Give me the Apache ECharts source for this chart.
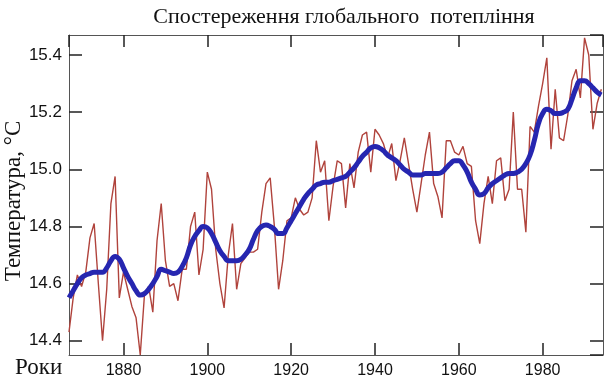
<!DOCTYPE html>
<html>
<head>
<meta charset="utf-8">
<script src="https://cdn.jsdelivr.net/npm/echarts@6/dist/echarts.min.js"></script>
<style>html,body{margin:0;padding:0;background:#fff}#c{width:611px;height:385px}</style>
</head>
<body>
<div id="c"></div>
<script>
const startYear = 1867;
const annualTemp = [
14.43,14.55,14.63,14.59,14.64,14.76,14.81,14.60,14.40,14.58,
14.88,14.975,14.55,14.64,14.58,14.52,14.48,14.35,14.56,14.59,
14.50,14.75,14.88,14.68,14.59,14.60,14.54,14.65,14.65,14.80,
14.85,14.63,14.72,14.99,14.93,14.72,14.60,14.515,14.70,14.81,
14.58,14.67,14.69,14.71,14.71,14.72,14.85,14.95,14.97,14.80,
14.58,14.68,14.82,14.83,14.90,14.86,14.84,14.85,14.90,15.10,
14.99,15.03,14.82,14.94,15.03,15.02,14.865,15.02,14.935,15.06,
15.12,15.13,14.99,15.14,15.12,15.09,15.04,15.09,14.96,15.03,
15.11,15.02,14.93,14.85,14.95,15.05,15.13,14.95,14.905,14.83,
15.10,15.10,15.06,15.05,15.08,15.02,15.01,14.82,14.74,14.88,
14.975,14.88,15.03,15.04,14.89,14.93,15.20,14.93,14.93,14.78,
15.15,15.13,15.22,15.30,15.39,15.07,15.28,15.11,15.10,15.19,
15.31,15.35,15.25,15.46,15.40,15.14,15.23,15.28
];
const smoothTemp = [
14.55,14.575,14.60,14.62,14.63,14.635,14.64,14.64,14.64,14.655,
14.68,14.695,14.685,14.655,14.625,14.60,14.575,14.56,14.565,14.58,
14.60,14.625,14.65,14.645,14.64,14.635,14.64,14.66,14.69,14.735,
14.765,14.785,14.80,14.795,14.775,14.745,14.715,14.695,14.68,14.68,
14.68,14.685,14.70,14.72,14.755,14.785,14.80,14.805,14.80,14.79,
14.775,14.775,14.795,14.82,14.845,14.87,14.895,14.915,14.93,14.945,
14.95,14.955,14.955,14.96,14.965,14.97,14.975,14.99,15.005,15.025,
15.045,15.06,15.075,15.08,15.075,15.065,15.05,15.04,15.03,15.015,
15.00,14.99,14.98,14.98,14.98,14.985,14.985,14.985,14.985,14.99,
15.005,15.02,15.03,15.03,15.015,14.99,14.955,14.93,14.91,14.915,
14.935,14.95,14.96,14.97,14.98,14.985,14.985,14.99,15.00,15.02,
15.05,15.10,15.16,15.195,15.21,15.205,15.195,15.195,15.20,15.21,
15.245,15.285,15.31,15.31,15.30,15.285,15.27,15.26
];
const xTicks = [1880,1900,1920,1940,1960,1980];
const yTicks = [14.4,14.6,14.8,15.0,15.2,15.4];
const titleText = 'Спостереження глобального  потепління';
const yName = 'Температура, °C';
const xName = 'Роки';

const redData = annualTemp.map((v,i)=>[startYear+i, v]);
const blueData = smoothTemp.map((v,i)=>[startYear+i, v]);

const chart = echarts.init(document.getElementById('c'), null, {renderer:'canvas'});
const tickStyle = {color:'#222', width:1.5};
const axLine = {color:'#555', width:1};
function xAx(pos, labels){
  return {type:'value', position:pos, min:1867, max:1994.4, splitNumber:6,
    axisLine:{show:true, onZero:false, lineStyle:axLine},
    axisTick:{show:true, inside:true, length:12, lineStyle:tickStyle},
    axisLabel:{show:labels, showMinLabel:false, showMaxLabel:false,
      formatter:v=>(xTicks.indexOf(Math.round(v))>=0 && Math.abs(v-Math.round(v))<1e-6) ? String(Math.round(v)) : '',
      fontFamily:'Liberation Sans', fontSize:16, color:'#111', margin:8},
    splitLine:{show:false}};
}
function yAx(pos, labels){
  return {type:'value', position:pos, min:14.35, max:15.47, splitNumber:5,
    axisLine:{show:true, onZero:false, lineStyle:axLine},
    axisTick:{show:true, inside:true, length:13, lineStyle:tickStyle},
    axisLabel:{show:labels, showMinLabel:false, showMaxLabel:false,
      formatter:v=>yTicks.some(t=>Math.abs(t-v)<1e-6) ? v.toFixed(1) : '',
      fontFamily:'Liberation Sans', fontSize:17, color:'#111', margin:7},
    splitLine:{show:false}};
}
chart.setOption({
  animation:false,
  backgroundColor:'#fff',
  grid:{left:69, right:8, top:35, bottom:30, containLabel:false},
  xAxis:[xAx('bottom', true), xAx('top', false)],
  yAxis:[yAx('left', true), yAx('right', false)],
  graphic:[
    {type:'text', x:344, y:17, style:{text:titleText, font:'22px "Liberation Serif"', fill:'#111', textAlign:'center', textVerticalAlign:'middle'}},
    {type:'text', x:14, y:201, rotation:Math.PI/2, style:{text:yName, font:'23px "Liberation Serif"', fill:'#111', textAlign:'center', textVerticalAlign:'middle'}},
    {type:'text', x:15, y:368, style:{text:xName, font:'23px "Liberation Serif"', fill:'#111', textAlign:'left', textVerticalAlign:'middle'}}
  ],
  series:[
    {type:'line', data:redData, xAxisIndex:0, yAxisIndex:0, showSymbol:false, symbol:'none',
      lineStyle:{color:'#b0433c', width:1.4}, z:2},
    {type:'line', data:blueData, xAxisIndex:0, yAxisIndex:0, showSymbol:false, symbol:'none', smooth:true,
      lineStyle:{color:'#2626b0', width:5}, z:3}
  ]
});
</script>
</body>
</html>
